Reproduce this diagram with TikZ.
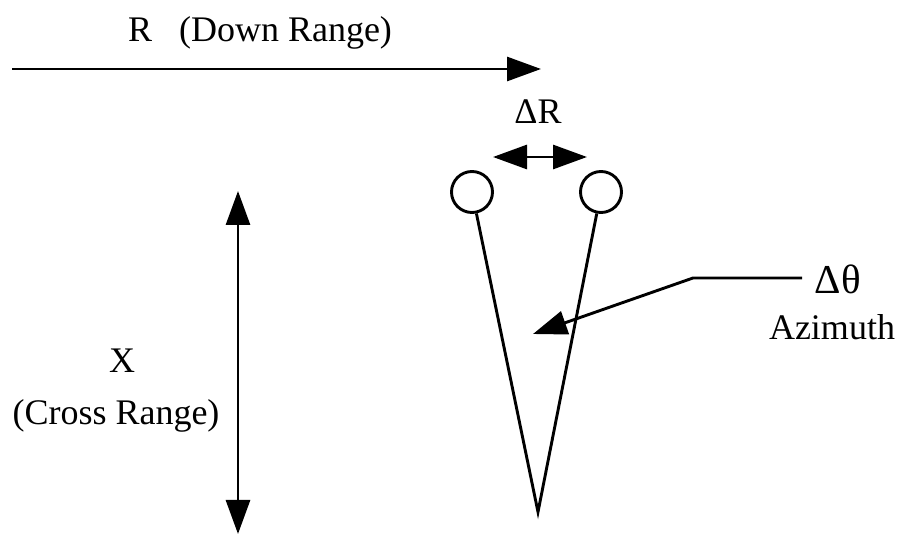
\documentclass[tikz,border=0pt]{standalone}
\usepackage{fontspec}
\setmainfont{Liberation Serif}
\usetikzlibrary{arrows.meta,positioning}

\begin{document}
\begin{tikzpicture}[x=0.5pt,y=-0.5pt,line width=1.45pt,
  arr/.style={-{Triangle[length=17pt,width=12pt]}},
  dblarr/.style={{Triangle[length=17pt,width=12pt]}-{Triangle[length=17pt,width=12pt]}},
  lbl/.style={font=\fontsize{18}{22}\selectfont, inner sep=0pt},
  spot/.style={circle, draw, minimum size=20.5pt, inner sep=0pt}]
\useasboundingbox (0,0) rectangle (902,535);
% down range
\coordinate (rstart) at (12,69);
\coordinate (rend) at (541,69);
\draw[arr] (rstart) -- (rend);
\node[lbl] (rlabel) at (260,33) {R\ \ \ (Down Range)};
% cross range
\coordinate (xtop) at (238,191);
\coordinate (xbot) at (238,534);
\draw[dblarr] (xtop) -- (xbot);
\node[lbl] (xlabel) at (122,361) {X};
\node[lbl, below=12pt of xlabel, xshift=-3pt] (crosslabel) {(Cross Range)};
% two resolution cells
\node[spot] (lspot) at (472,192) {};
\node[spot] (rspot) at (601,192) {};
\coordinate (apex) at (538,512);
\draw[miter limit=10] (lspot) -- (apex) -- (rspot);
% range resolution
\coordinate (dra) at (493,157);
\coordinate (drb) at (587,157);
\draw[dblarr] (dra) -- (drb);
\node[lbl] (drlabel) at (538,112) {ΔR};
% azimuth resolution
\node[font=\fontsize{20.5}{24}\selectfont, inner sep=0pt] (dtlabel) at (838,279) {Δθ};
\node[lbl] (azlabel) at (832,327) {Azimuth};
\coordinate (lead) at (802,278);
\coordinate (bend) at (693,278);
\coordinate (tip) at (533,334);
\draw[arr] (lead) -- (bend) -- (tip);
\end{tikzpicture}
\end{document}
